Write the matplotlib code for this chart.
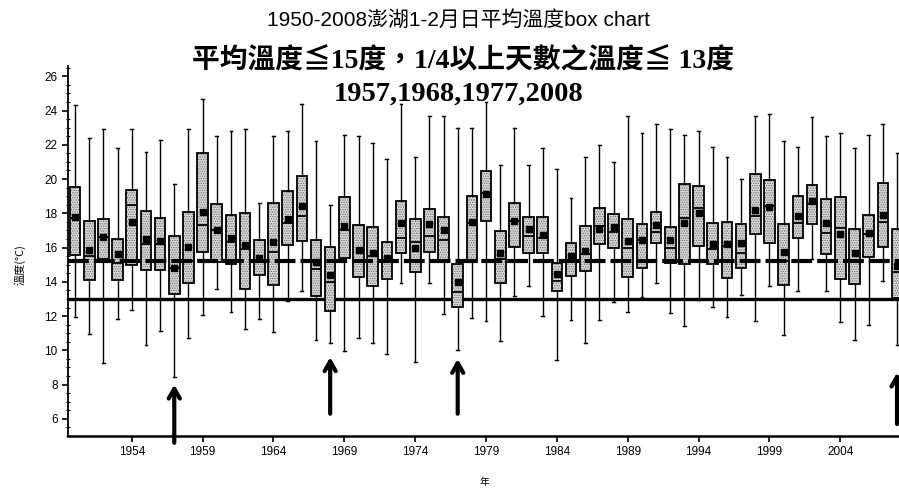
import matplotlib
matplotlib.use('Agg')
import matplotlib.pyplot as plt
from matplotlib.patches import PathPatch
from matplotlib.ticker import MultipleLocator

years = list(range(1950, 2009))
whisker_high = [24.3, 22.4, 22.9, 21.8, 22.9, 21.6, 22.3, 19.7, 22.9, 24.7,
                22.5, 22.8, 22.9, 18.6, 22.5, 22.8, 24.4, 22.2, 18.5, 22.6,
                22.5, 22.1, 21.2, 24.4, 21.3, 23.7, 23.7, 23.0, 23.0, 24.5,
                20.8, 23.0, 20.8, 21.8, 20.6, 18.9, 21.3, 22.0, 21.0, 23.7,
                22.7, 23.2, 22.9, 22.6, 22.8, 21.9, 21.3, 20.0, 23.7, 23.8,
                22.2, 21.9, 23.6, 22.5, 22.7, 21.8, 22.6, 23.2, 21.5]
q3 = [19.55, 17.55, 17.64, 16.48, 19.35, 18.13, 17.72, 16.68, 18.09, 21.52,
      18.52, 17.88, 17.99, 16.44, 18.58, 19.29, 20.16, 16.42, 16.06, 18.96,
      17.30, 17.22, 16.33, 18.71, 17.64, 18.28, 17.78, 15.03, 19.04, 20.45,
      16.97, 18.61, 17.80, 17.80, 15.09, 16.29, 17.26, 18.32, 17.94, 17.66,
      17.39, 18.07, 17.20, 19.74, 19.62, 17.45, 17.49, 17.35, 20.30, 19.93,
      17.35, 19.00, 19.68, 18.81, 18.96, 17.06, 17.88, 19.78, 17.06]
median = [17.7, 15.5, 16.6, 15.09, 18.5, 16.19, 16.2, 14.8, 15.22, 17.32,
          17.0, 16.33, 15.94, 15.3, 15.77, 17.45, 17.84, 14.74, 14.0, 17.0,
          15.28, 15.5, 15.3, 16.58, 16.33, 16.68, 16.44, 13.4, 17.45, 19.2,
          15.32, 17.55, 16.68, 16.58, 14.06, 15.3, 15.6, 17.26, 16.91, 16.0,
          16.44, 16.91, 15.99, 17.74, 18.32, 15.9, 16.09, 15.67, 17.84, 18.4,
          15.22, 17.45, 18.55, 16.87, 17.16, 15.2, 16.8, 17.49, 14.6]
q1 = [15.57, 14.12, 15.32, 14.12, 14.97, 14.70, 14.70, 13.28, 13.92, 15.77,
      15.16, 15.03, 13.61, 14.39, 13.83, 16.13, 16.39, 13.19, 12.32, 15.42,
      14.29, 13.77, 14.16, 15.71, 14.58, 15.77, 15.28, 12.51, 15.16, 17.55,
      13.96, 16.06, 15.67, 15.67, 13.48, 14.35, 14.64, 16.23, 15.99, 14.27,
      14.78, 16.29, 15.09, 15.03, 16.09, 15.03, 14.25, 14.78, 16.77, 16.29,
      13.83, 16.58, 17.35, 15.65, 14.16, 13.87, 15.45, 16.06, 13.03]
whisker_low = [11.93, 10.96, 9.27, 11.83, 12.35, 10.32, 11.11, 8.44, 10.71, 12.08,
               13.58, 12.22, 11.25, 11.83, 11.09, 12.90, 13.48, 10.63, 10.44, 9.99,
               10.71, 10.44, 9.76, 13.96, 9.31, 13.92, 12.12, 10.03, 11.91, 11.74,
               10.57, 13.15, 13.73, 11.99, 9.41, 11.79, 10.44, 11.79, 12.80, 12.26,
               13.09, 13.96, 12.18, 11.40, 12.96, 12.55, 11.93, 13.23, 11.74, 13.73,
               10.90, 13.48, 15.32, 13.48, 11.68, 10.63, 11.50, 14.06, 10.30]
mean = [17.78, 15.86, 16.62, 15.61, 17.49, 16.48, 16.39, 14.80, 16.06, 18.09,
        17.00, 16.54, 16.13, 15.42, 16.35, 17.64, 18.42, 15.13, 14.41, 17.26,
        15.86, 15.67, 15.42, 17.45, 16.00, 17.35, 17.02, 14.00, 17.49, 19.14,
        15.71, 17.55, 17.06, 16.73, 14.45, 15.51, 15.80, 17.06, 17.22, 16.38,
        16.44, 17.30, 16.44, 17.45, 18.03, 16.19, 16.19, 16.25, 18.19, 18.38,
        15.76, 17.84, 18.71, 17.41, 16.77, 15.71, 16.83, 17.88, 14.90]

highlight_years = [1957, 1968, 1977, 2008]
mean_threshold = 15.2
cold_threshold = 13.0

title = '1950-2008澎湖1-2月日平均溫度box chart'
line2 = '平均溫度≦15度，1/4以上天數之溫度≦ 13度'
line3 = ','.join(str(y) for y in highlight_years)
ylabel = '溫度(°C)'
xlabel = '年'

plt.rcParams['hatch.linewidth'] = 0.6
fig = plt.figure(figsize=(8.99, 4.90), dpi=100)
ax = fig.add_axes([68 / 899, 54 / 490, 1 - 68 / 899, 370 / 490])

stats = [dict(whislo=lo, q1=a, med=m, q3=b, whishi=hi, mean=mu)
         for lo, a, m, b, hi, mu in zip(whisker_low, q1, median, q3, whisker_high, mean)]
bp = ax.bxp(stats, positions=years, widths=0.75, patch_artist=True,
            showmeans=True, showfliers=False, manage_ticks=False, capwidths=0.2,
            boxprops=dict(linewidth=0),
            whiskerprops=dict(color='black', linewidth=1.0),
            capprops=dict(color='black', linewidth=1.0),
            medianprops=dict(color='black', linewidth=1.3),
            meanprops=dict(marker='s', markerfacecolor='black', markeredgecolor='black',
                           markersize=4))
for p in bp['boxes']:
    p.set_facecolor('#d8d8d8')
    p.set_edgecolor('#6a6a6a')
    p.set_hatch('.......')
    p.set_linewidth(0)
    outline = PathPatch(p.get_path(), fill=False, edgecolor='black', linewidth=1.3,
                        zorder=p.get_zorder() + 0.1)
    ax.add_patch(outline)
for m in bp['means']:
    m.set_zorder(4)

ax.axhline(cold_threshold, color='black', linewidth=2.4, zorder=1.5)
ax.axhline(mean_threshold, color='black', linewidth=3.0, linestyle=(0, (5, 1.2)), zorder=2.6)

arrow_tails = [4.6, 6.3, 6.3, 5.7]
arrow_tips = [8.0, 9.6, 9.5, 8.7]
for yr, t0, t1 in zip(highlight_years, arrow_tails, arrow_tips):
    ax.annotate('', xy=(yr, t1), xytext=(yr, t0), annotation_clip=False,
                arrowprops=dict(arrowstyle='->,head_length=0.7,head_width=0.4', lw=3,
                                color='black', shrinkA=0, shrinkB=0))

ax.set_xlim(1949.5, 2008.14)
ax.set_ylim(5, 26.6)
ax.set_xticks(range(1954, 2008, 5))
ax.set_yticks(range(6, 27, 2))
ax.yaxis.set_minor_locator(MultipleLocator(0.5))
ax.xaxis.set_minor_locator(MultipleLocator(1))
for s in ['top', 'right']:
    ax.spines[s].set_visible(False)
ax.spines['left'].set_linewidth(1.3)
ax.spines['bottom'].set_linewidth(1.8)
ax.tick_params(axis='both', which='major', direction='out', length=4, width=1.2,
               labelsize=8.5)
ax.tick_params(axis='y', which='minor', direction='inout', length=3, width=0.8)
ax.tick_params(axis='x', which='minor', direction='out', length=0)
for lab in ax.get_xticklabels() + ax.get_yticklabels():
    lab.set_family(['Liberation Sans', 'DejaVu Sans'])

fig.text(459 / 899, 1 - 20 / 490, title, ha='center', va='center', fontsize=15,
         family=['Liberation Sans', 'Noto Sans CJK TC'])
fig.text(463 / 899, 1 - 61 / 490, line2, ha='center', va='center', fontsize=20,
         fontweight='bold', family=['Liberation Serif', 'Noto Sans CJK TC'])
fig.text(459 / 899, 1 - 94 / 490, line3, ha='center', va='center', fontsize=20.5,
         fontweight='bold', family=['Liberation Serif', 'DejaVu Serif'])
fig.text(20 / 899, 1 - 265 / 490, ylabel, ha='center', va='center', rotation=90,
         fontsize=8, family=['Noto Sans CJK TC', 'DejaVu Sans'])
fig.text(484 / 899, 1 - 482 / 490, xlabel, ha='center', va='center', fontsize=7,
         family=['Noto Sans CJK TC', 'DejaVu Sans'])

fig.savefig('out.png', dpi=100)
